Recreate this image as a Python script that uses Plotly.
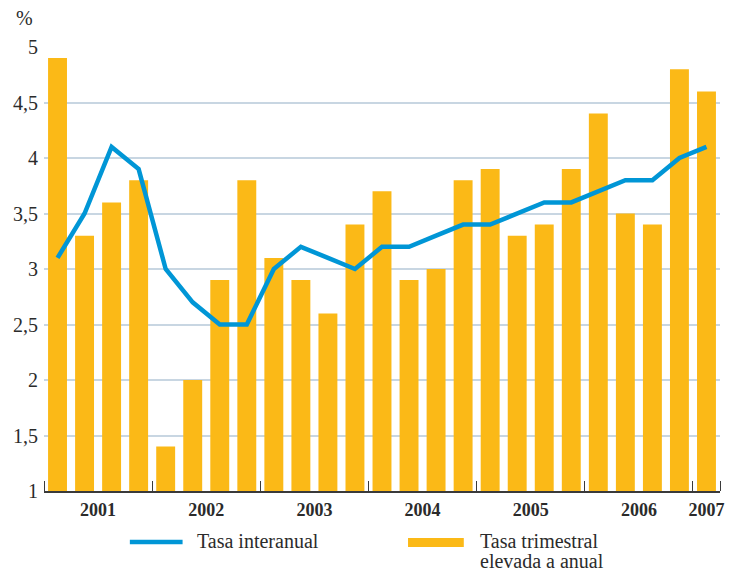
import plotly.graph_objects as go

# Quarterly series, 2001 Q1 – 2007 Q1
years = ["2001", "2002", "2003", "2004", "2005", "2006", "2007"]
quarters_per_year = [4, 4, 4, 4, 4, 4, 1]

tasa_trimestral = [4.9, 3.3, 3.6, 3.8,
                   1.4, 2.0, 2.9, 3.8,
                   3.1, 2.9, 2.6, 3.4,
                   3.7, 2.9, 3.0, 3.8,
                   3.9, 3.3, 3.4, 3.9,
                   4.4, 3.5, 3.4, 4.8,
                   4.6]
tasa_interanual = [3.1, 3.5, 4.1, 3.9,
                   3.0, 2.7, 2.5, 2.5,
                   3.0, 3.2, 3.1, 3.0,
                   3.2, 3.2, 3.3, 3.4,
                   3.4, 3.5, 3.6, 3.6,
                   3.7, 3.8, 3.8, 4.0,
                   4.1]

y_ticks = [1, 1.5, 2, 2.5, 3, 3.5, 4, 4.5, 5]
y_tick_text = ["1", "1,5", "2", "2,5", "3", "3,5", "4", "4,5", "5"]

legend_line_label = "Tasa interanual"
legend_bar_label = ["Tasa trimestral", "elevada a anual"]

BAR_COLOR = "#FBB917"
LINE_COLOR = "#0096D6"
TEXT_COLOR = "#2b2b2b"
GRID_COLOR = "#c8d6e2"
FONT = "Liberation Serif, Times New Roman, DejaVu Serif, serif"
FS = 20

x = list(range(len(tasa_trimestral)))

# year label positions (centre of each year's quarters) and year boundaries
year_centers, boundaries = [], [-0.5]
start = 0
for n in quarters_per_year:
    year_centers.append(start + (n - 1) / 2)
    start += n
    boundaries.append(start - 0.5)

fig = go.Figure()
fig.add_trace(go.Bar(x=x, y=tasa_trimestral, marker_color=BAR_COLOR,
                     marker_line_width=0, width=0.7,
                     name="Tasa trimestral elevada a anual", showlegend=False))
fig.add_trace(go.Scatter(x=x, y=tasa_interanual, mode="lines",
                         line=dict(color=LINE_COLOR, width=4.5),
                         name="Tasa interanual", showlegend=False))

fig.update_layout(
    width=733, height=571,
    margin=dict(l=44, r=9, t=47, b=80),
    plot_bgcolor="white", paper_bgcolor="white",
    font=dict(family=FONT, color=TEXT_COLOR, size=FS),
    separators=",.",
)
fig.update_xaxes(
    range=[-0.5, len(x) - 0.5],
    tickmode="array", tickvals=year_centers, ticktext=years,
    ticks="", showgrid=False, zeroline=False,
    tickfont=dict(family=FONT, size=18, color=TEXT_COLOR, weight="bold"),
    ticklabelstandoff=2,
    showline=True, linecolor="#3a3a3a", linewidth=1.5,
    minor=dict(tickmode="array", tickvals=boundaries, ticks="inside",
               ticklen=10, tickwidth=1.3, tickcolor="#3a3a3a", showgrid=False),
)
fig.update_yaxes(
    range=[1, 5], tickmode="array", tickvals=y_ticks, ticktext=y_tick_text,
    showgrid=True, gridcolor=GRID_COLOR, gridwidth=2, zeroline=False,
    showline=False, ticks="", ticklabelstandoff=5,
    tickfont=dict(family=FONT, size=FS, color=TEXT_COLOR),
)

# unit label
fig.add_annotation(text="%", xref="paper", yref="paper", x=-0.045, y=1.065,
                   xanchor="left", yanchor="middle", showarrow=False,
                   font=dict(family=FONT, size=FS, color=TEXT_COLOR))

# legend (line sample + label, bar sample + two-line label)
fig.add_shape(type="line", xref="paper", yref="paper",
              x0=0.127, x1=0.205, y0=-0.115, y1=-0.115,
              line=dict(color=LINE_COLOR, width=4.5))
fig.add_annotation(text=legend_line_label, xref="paper", yref="paper",
                   x=0.224, y=-0.113, xanchor="left", yanchor="middle",
                   showarrow=False, font=dict(family=FONT, size=FS, color=TEXT_COLOR))
fig.add_shape(type="rect", xref="paper", yref="paper",
              x0=0.5385, x1=0.621, y0=-0.126, y1=-0.1057,
              fillcolor=BAR_COLOR, line_width=0)
for i, line in enumerate(legend_bar_label):
    fig.add_annotation(text=line, xref="paper", yref="paper",
                       x=0.6414, y=-0.113 - i * 0.045, xanchor="left", yanchor="middle",
                       showarrow=False, font=dict(family=FONT, size=FS, color=TEXT_COLOR))

fig.write_html("out.html")
